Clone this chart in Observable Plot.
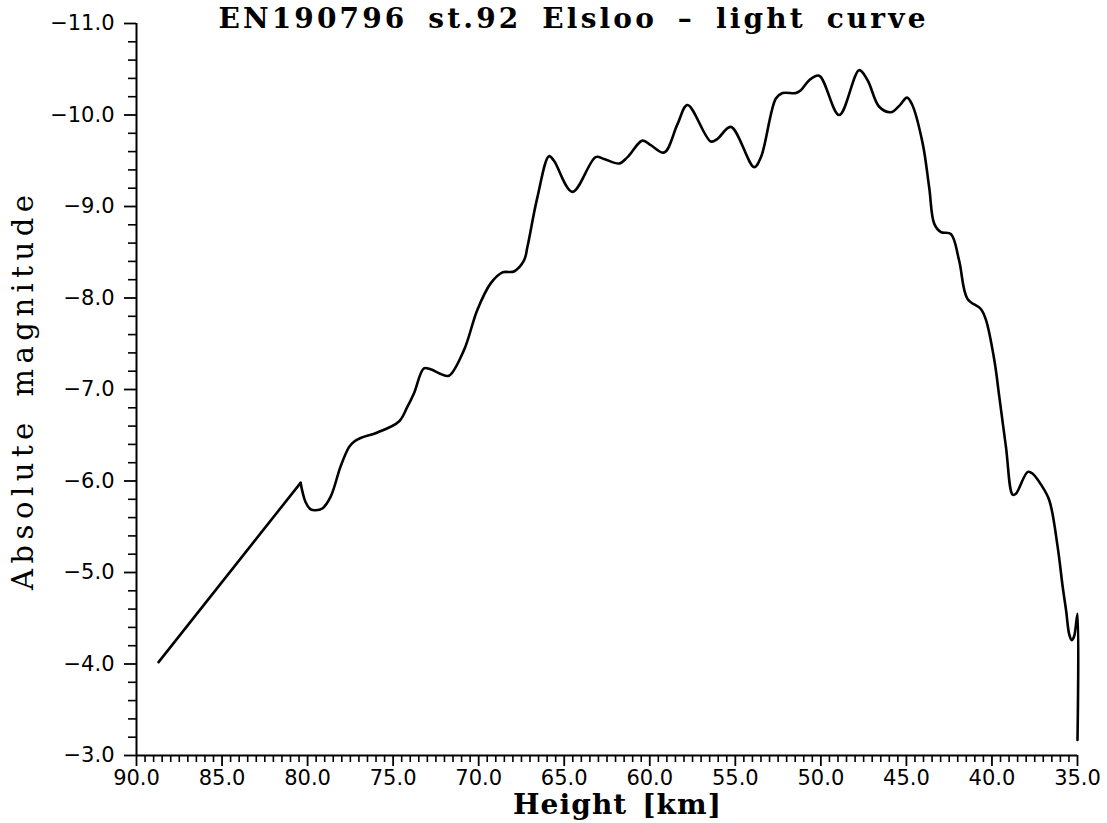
<!DOCTYPE html>
<html>
<head>
<meta charset="utf-8">
<script src="https://cdn.jsdelivr.net/npm/d3@7"></script>
<script src="https://cdn.jsdelivr.net/npm/@observablehq/plot@0.6"></script>
<style>
  html, body { margin: 0; padding: 0; background: #fff; }
  #chart svg { display: block; }
</style>
</head>
<body>
<div id="chart"></div>
<script>
// Light curve: height [km] and absolute magnitude
const heightKm = [
  88.71, 80.41, 80.12, 79.82, 79.53, 79.14, 78.65, 78.07, 77.58, 77.29,
  76.90, 75.92, 74.66, 74.17, 73.78, 73.20, 72.81, 72.22, 71.74, 70.86,
  70.08, 69.30, 68.61, 67.94, 67.35, 67.15, 66.57, 65.89, 65.60, 64.52,
  63.16, 62.67, 61.79, 61.30, 60.43, 59.94, 59.16, 58.38, 57.80, 56.43,
  56.04, 55.26, 53.90, 53.50, 52.63, 52.24, 51.46, 51.17, 50.68, 50.10,
  48.93, 47.76, 47.27, 46.59, 45.91, 45.42, 44.97, 44.68, 44.05, 43.67,
  43.37, 42.98, 42.40, 41.92, 41.43, 40.65, 40.35, 39.86, 39.57, 39.18,
  38.79, 38.60, 37.91, 37.62, 37.13, 36.65, 36.16, 35.87, 35.67, 35.48,
  35.34, 35.20, 35.00, 35.00
];
const absMag = [
  -4.02, -5.98, -5.77, -5.69, -5.68, -5.70, -5.83, -6.16, -6.37, -6.43,
  -6.47, -6.53, -6.65, -6.81, -6.96, -7.23, -7.22, -7.17, -7.15, -7.43,
  -7.87, -8.16, -8.28, -8.29, -8.41, -8.56, -9.10, -9.55, -9.50, -9.16,
  -9.54, -9.52, -9.47, -9.54, -9.72, -9.67, -9.59, -9.90, -10.11, -9.71,
  -9.74, -9.87, -9.43, -9.54, -10.18, -10.24, -10.24, -10.27, -10.38, -10.43,
  -10.00, -10.49, -10.38, -10.09, -10.03, -10.10, -10.19, -10.12, -9.69, -9.21,
  -8.81, -8.72, -8.70, -8.41, -7.99, -7.88, -7.76, -7.32, -6.92, -6.37,
  -5.85, -5.86, -6.10, -6.08, -5.96, -5.79, -5.28, -4.85, -4.59, -4.32,
  -4.26, -4.30, -4.55, -3.17
];

// Axis ticks
const xMajorTicks = [90, 85, 80, 75, 70, 65, 60, 55, 50, 45, 40, 35];
const xMinorTicks = d3.range(0, 111).map(i => 90 - i * 0.5).filter(v => v % 5 !== 0);
const yMajorTicks = [-11, -10, -9, -8, -7, -6, -5, -4, -3];
const yMinorTicks = d3.range(0, 41).map(i => Math.round((-11 + i * 0.2) * 10) / 10).filter(v => v % 1 !== 0);

const titleText = "EN190796 st.92 Elsloo \u2013 light curve";
const xLabel = "Height [km]";
const yLabel = "Absolute magnitude";

const data = heightKm.map((h, i) => ({h, m: absMag[i]}));
const firstLeg = data.slice(0, 2);   // the straight ramp at the start
const rest = data.slice(1);

const sans = "'DejaVu Sans', sans-serif";
const serif = "'DejaVu Serif', serif";
const fmt = d3.format(".1f");

const chart = Plot.plot({
  width: 1107,
  height: 823,
  marginLeft: 136,
  marginRight: 30,
  marginTop: 23,
  marginBottom: 68,
  style: {background: "white", color: "black", fontFamily: sans},
  x: {domain: [90, 35], axis: null},
  y: {domain: [-3, -11], axis: null},
  marks: [
    // minor ticks
    Plot.axisY(yMinorTicks, {tickSize: 8, tickFormat: () => null, label: null, strokeWidth: 1.6}),
    Plot.axisX(xMinorTicks, {anchor: "bottom", tickSize: 7, tickFormat: () => null, label: null, strokeWidth: 1.6}),
    // major ticks with labels
    Plot.axisY(yMajorTicks, {tickSize: 12, tickPadding: 10, tickFormat: fmt, label: null, fontSize: 21, strokeWidth: 1.8}),
    Plot.axisX(xMajorTicks, {anchor: "bottom", tickSize: 11, tickPadding: 4, tickFormat: fmt, label: null, fontSize: 21, strokeWidth: 1.8}),
    // axis lines
    Plot.ruleX([90], {strokeWidth: 2}),
    Plot.ruleY([-3], {strokeWidth: 2}),
    // the light curve
    Plot.line(firstLeg, {x: "h", y: "m", stroke: "black", strokeWidth: 2.6, strokeLinecap: "round"}),
    Plot.line(rest, {x: "h", y: "m", stroke: "black", strokeWidth: 2.6, curve: "catmull-rom",
      strokeLinejoin: "round", strokeLinecap: "round"}),
    // title and axis titles
    Plot.text([titleText], {frameAnchor: "top-left", textAnchor: "start", lineAnchor: "middle", dx: 82, dy: -4,
      fontSize: 28, fontWeight: "bold", fontFamily: serif, fill: "black"}),
    Plot.text([xLabel], {frameAnchor: "bottom", textAnchor: "middle", lineAnchor: "middle", dx: 10, dy: 50,
      fontSize: 28, fontWeight: "bold", fontFamily: serif, fill: "black"}),
    Plot.text([yLabel], {frameAnchor: "left", textAnchor: "middle", lineAnchor: "middle", rotate: -90, dx: -113, dy: 3,
      fontSize: 29, fontFamily: serif, fill: "black"})
  ]
});

document.getElementById("chart").appendChild(chart);

// stretch titles to the reference widths (wide word gaps as in the original plot)
const widths = {
  [titleText]: {w: 707, ws: 8},
  [xLabel]: {w: 208, ws: 4},
  [yLabel]: {w: 395, ws: 6}
};
d3.select(chart).selectAll("text").each(function() {
  const o = widths[this.textContent];
  if (o) d3.select(this)
    .style("word-spacing", o.ws + "px")
    .attr("textLength", o.w)
    .attr("lengthAdjust", "spacing");
});
</script>
</body>
</html>
